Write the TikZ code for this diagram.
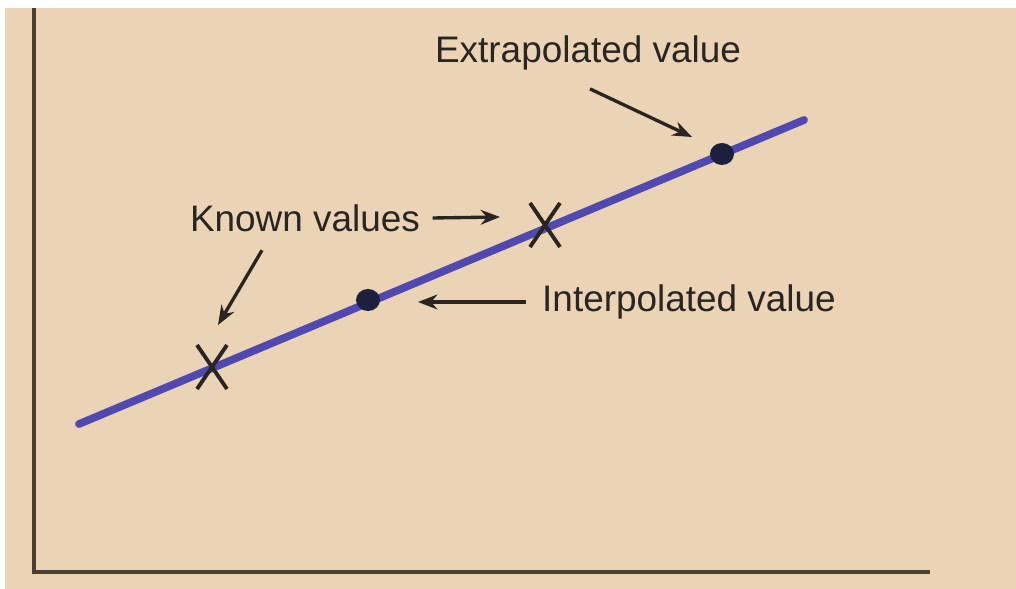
\documentclass[tikz,border=0pt]{standalone}
\usepackage{fontspec}
\setmainfont{Liberation Sans}
\usetikzlibrary{arrows.meta}
\definecolor{paper}{RGB}{235,212,182}
\definecolor{axisbrown}{RGB}{74,64,50}
\definecolor{fitblue}{RGB}{80,74,176}
\definecolor{dotnavy}{RGB}{28,32,60}
\definecolor{inkgray}{RGB}{40,37,34}

\begin{document}
\begin{tikzpicture}[x=0.01cm, y=-0.01cm,
  font=\fontsize{10.5}{12}\selectfont,
  lbl/.style={text=inkgray, inner sep=0pt},
  pointer/.style={draw=inkgray, line width=0.95pt, -{Stealth[length=5.5pt, width=4.2pt]}},
  fitline/.style={draw=fitblue, line width=2.2pt, line cap=round},
  knownmark/.style={draw=inkgray, line width=1.1pt}]
  \useasboundingbox (0,0) rectangle (1016,589);
  \fill[white] (0,0) rectangle (1016,589);
  \fill[paper] (5,8) rectangle (1016,589);
  % axes
  \draw[axisbrown, line width=1pt] (34,8) -- (34,572) -- (930,572);
  % straight line through the data
  \coordinate (lstart) at (79,424);
  \coordinate (lend) at (804,120);
  \draw[fitline] (lstart) -- (lend);
  % known values (crosses)
  \coordinate (k1) at (212,367);
  \coordinate (k2) at (545,225);
  \foreach \k in {k1,k2} {
    \draw[knownmark] ([shift={(-15,-22)}]\k) -- ([shift={(15,22)}]\k);
    \draw[knownmark] ([shift={(15,-22)}]\k) -- ([shift={(-15,22)}]\k);
  }
  % estimated values (dots)
  \fill[dotnavy] (368,300) ellipse (12 and 11);
  \fill[dotnavy] (722,154) ellipse (12 and 11);
  % labels
  \node[lbl] (extra) at (588,53) {Extrapolated value};
  \node[lbl] (known) at (305,218) {Known values};
  \node[lbl] (inter) at (689,302) {Interpolated value};
  \coordinate (etip) at (692,137);
  \coordinate (ktipa) at (500,217);
  \coordinate (ktipb) at (218,325);
  \coordinate (itip) at (418,302);
  \draw[pointer] ([shift={(2,18)}]extra.south) -- (etip);
  \draw[pointer] ([shift={(12,0)}]known.east) -- (ktipa);
  \draw[pointer] ([shift={(-43,18)}]known.south) -- (ktipb);
  \draw[pointer] ([shift={(-16,0)}]inter.west) -- (itip);
\end{tikzpicture}
\end{document}
